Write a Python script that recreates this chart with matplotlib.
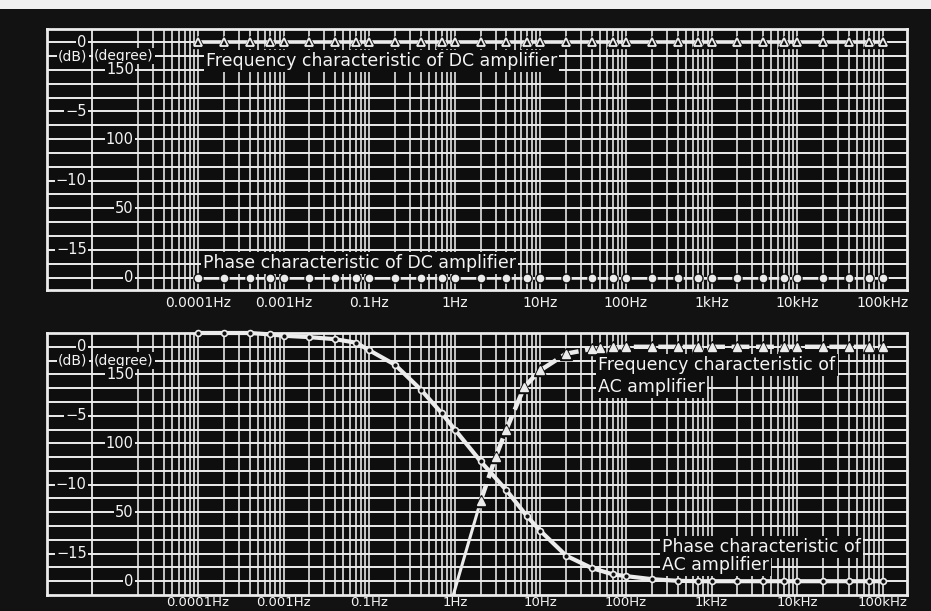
import matplotlib
matplotlib.use("Agg")
import matplotlib.pyplot as plt
from matplotlib.patches import Rectangle
from matplotlib.ticker import NullLocator

# ---------------- data ----------------
tick_freqs = [1e-3, 1e-2, 1e-1, 1, 10, 100, 1e3, 1e4, 1e5]
tick_labels = ["0.0001Hz", "0.001Hz", "0.1Hz", "1Hz", "10Hz",
               "100Hz", "1kHz", "10kHz", "100kHz"]

freqs = [0.001, 0.002, 0.004, 0.007, 0.01, 0.02, 0.04, 0.07,
         0.1, 0.2, 0.4, 0.7, 1, 2, 4, 7, 10, 20, 40, 70,
         100, 200, 400, 700, 1000, 2000, 4000, 7000,
         10000, 20000, 40000, 70000, 100000]

dc_gain_db = [0, 0, 0, 0, 0, 0, 0, 0, 0, 0, 0, 0, 0, 0, 0, 0, 0,
              0, 0, 0, 0, 0, 0, 0, 0, 0, 0, 0, 0, 0, 0, 0, 0]
dc_phase_deg = [0, 0, 0, 0, 0, 0, 0, 0, 0, 0, 0, 0, 0, 0, 0, 0, 0,
                0, 0, 0, 0, 0, 0, 0, 0, 0, 0, 0, 0, 0, 0, 0, 0]

ac_phase_deg = [180, 180, 180, 179, 178, 177, 175.5, 173,
                167.5, 157, 139, 122, 110, 87, 66, 47, 36.5, 18.5, 9.5, 5,
                3.7, 1.5, 0.3, 0, 0, 0, 0, 0,
                0, 0, 0, 0, 0]

ac_gain_freq = [0.9, 2, 3, 4, 6.5, 10, 20, 40, 50, 70, 100, 200, 400, 700,
                1000, 2000, 4000, 7000, 10000, 20000, 40000, 70000, 100000]
ac_gain_db = [-18.6, -11.2, -8.0, -6.0, -2.9, -1.7, -0.5, -0.15, -0.1, -0.05,
              0, 0, 0, 0, 0, 0, 0, 0, 0, 0, 0, 0, 0]

db_labels = [0, -5, -10, -15]
deg_labels = [0, 50, 100, 150]

# ---------------- style ----------------
BG = "#0e0e0e"
W = "#ececec"
TXT = "#f4f4f4"

fig = plt.figure(figsize=(9.31, 6.11), dpi=100, facecolor="#121212")
fig.add_artist(Rectangle((0, 1 - 9 / 611), 1, 9 / 611, transform=fig.transFigure,
                         fc="#f0f0f0", ec="none", zorder=0))

W_FIG, H_FIG = 931, 611


def make_axes(top_px, bot_px):
    left, right = 47, 907
    return fig.add_axes([left / W_FIG, 1 - bot_px / H_FIG,
                         (right - left) / W_FIG, (bot_px - top_px) / H_FIG])


XLIM = (1.72e-5, 1.92e5)


def db_to_deg(v):
    return (v + 17) * 10


def setup_panel(ax, ylim, pad, tsize):
    ax.set_facecolor(BG)
    ax.set_xscale("log")
    ax.set_xlim(*XLIM)
    ax.set_ylim(*ylim)
    ax.set_xticks(tick_freqs, tick_labels)
    ax.xaxis.set_minor_locator(NullLocator())
    ax.set_yticks([])
    ax.tick_params(axis="x", length=0, pad=pad, labelcolor=TXT, labelsize=tsize)
    for s in ax.spines.values():
        s.set_color(W)
        s.set_linewidth(2)
    # grid: horizontal every 1 dB
    ax.hlines(range(-17, 1), XLIM[0], XLIM[1], colors=W, lw=1.4, zorder=1)
    # vertical log grid lines
    vx = []
    for d in range(-4, 6):
        for m in range(1, 10):
            v = m * 10.0 ** d
            if 1.9e-4 <= v <= XLIM[1]:
                vx.append(v)
    ax.vlines(vx, ylim[0], ylim[1], colors=W, lw=1.15, zorder=1)
    # divider between dB and degree scales
    ax.vlines([5.75e-5], ylim[0], ylim[1], colors=W, lw=1.3, zorder=1)

    ax2 = ax.twinx()
    ax2.set_ylim(db_to_deg(ylim[0]), db_to_deg(ylim[1]))
    ax2.set_yticks([])
    for s in ax2.spines.values():
        s.set_visible(False)

    box = dict(boxstyle="square,pad=0.08", fc=BG, ec="none")
    for v in db_labels:
        ax2.text(5.0e-5, v, f"{v}".replace("-", "\u2212"), transform=ax.transData,
                 ha="right", va="center", color=TXT, fontsize=10.5, bbox=box, zorder=6)
    ax2.text(3.45e-5, -1, "(dB)", transform=ax.transData, ha="center", va="center",
             color=TXT, fontsize=10, bbox=box, zorder=6)
    ax2.text(1.36e-4, -1, "(degree)", transform=ax.transData, ha="center",
             va="center", color=TXT, fontsize=10, bbox=box, zorder=6)
    for v in deg_labels:
        ax2.text(1.78e-4, v, f"{v}", ha="right", va="center", color=TXT,
                 fontsize=10.5, bbox=box, zorder=6)
    return ax2


def note(ax, ax2, x, y, s):
    ax2.text(x, y, s, transform=ax.transData, ha="left", va="center", color=TXT,
             fontsize=12.5, zorder=8,
             bbox=dict(boxstyle="square,pad=0.12", fc=BG, ec="none"))


# ---------------- top panel: DC amplifier ----------------
ax = make_axes(29, 290)
ylim_top = (-17.9, 0.95)
ax2 = setup_panel(ax, ylim_top, pad=4.5, tsize=10)

ax.plot(freqs, dc_gain_db, color=W, lw=2.6, zorder=3, clip_on=False)
ax.plot(freqs, dc_gain_db, ls="none", marker="^", ms=8.5, mfc=BG, mec=BG, zorder=4,
        clip_on=False)
ax.plot(freqs, dc_gain_db, ls="none", marker="^", ms=5.5, mfc=BG, mec=W, mew=1.3,
        zorder=5, clip_on=False)

ax2.plot(freqs, dc_phase_deg, color=W, lw=1.8, zorder=3, clip_on=False)
ax2.plot(freqs, dc_phase_deg, ls="none", marker="o", ms=6.5, mfc=BG, mec=BG, zorder=4,
         clip_on=False)
ax2.plot(freqs, dc_phase_deg, ls="none", marker="o", ms=4.5, mfc=W, mec=W, zorder=5,
         clip_on=False)

note(ax, ax2, 1.24e-3, -1.37, "Frequency characteristic of DC amplifier")
note(ax, ax2, 1.14e-3, -15.93, "Phase characteristic of DC amplifier")

# ---------------- bottom panel: AC amplifier ----------------
axb = make_axes(333, 595)
ylim_bot = (-18.0, 1.0)
axb2 = setup_panel(axb, ylim_bot, pad=1, tsize=9.5)

axb.plot(ac_gain_freq[:2], ac_gain_db[:2], color=W, lw=2.2, zorder=3)
axb.plot(ac_gain_freq[1:], ac_gain_db[1:], color=W, lw=3.2, ls=(0, (4, 1.5)),
         zorder=3)
axb.plot(ac_gain_freq[1:], ac_gain_db[1:], ls="none", marker="^", ms=8.5, mfc=BG,
         mec=BG, zorder=4)
axb.plot(ac_gain_freq[1:], ac_gain_db[1:], ls="none", marker="^", ms=6, mfc=W,
         mec=W, zorder=5)

axb2.plot(freqs, ac_phase_deg, color=W, lw=3.0, zorder=3, clip_on=False)
axb2.plot(freqs, ac_phase_deg, ls="none", marker="o", ms=4.2, mfc=BG, mec=W,
          mew=1.2, zorder=5, clip_on=False)

note(axb, axb2, 47.6, -1.30, "Frequency characteristic of")
note(axb, axb2, 47.6, -2.90, "AC amplifier")
note(axb, axb2, 267, -14.49, "Phase characteristic of")
note(axb, axb2, 267, -15.80, "AC amplifier")

fig.savefig("out.png", dpi=100, facecolor=fig.get_facecolor())
